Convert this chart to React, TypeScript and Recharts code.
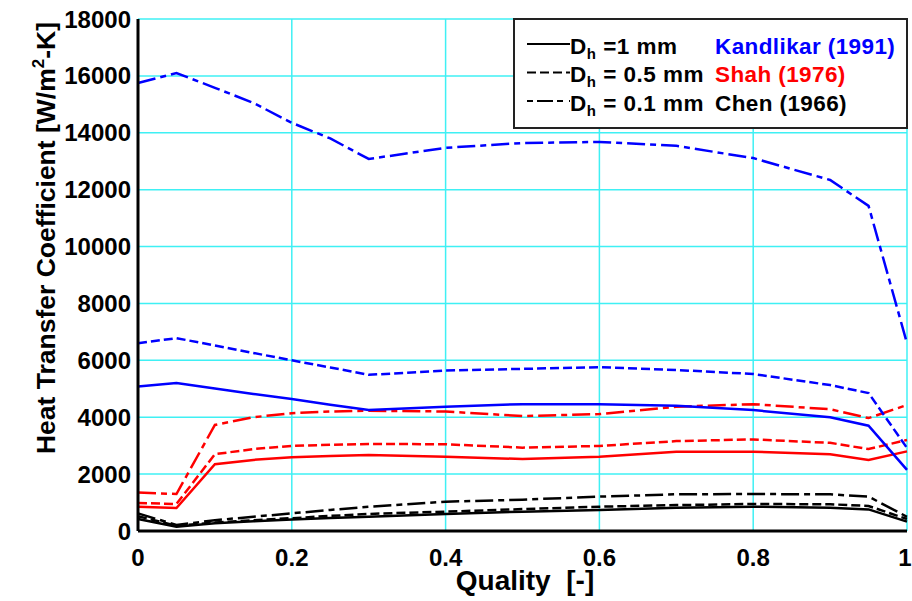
import React from "react";
import { LineChart, Line, XAxis, YAxis, CartesianGrid, Label } from "recharts";

const FONT = "'Liberation Sans', Arial, Helvetica, sans-serif";

// vapor quality positions where the correlations were evaluated
const quality = [0, 0.05, 0.1, 0.15, 0.2, 0.25, 0.3, 0.4, 0.5, 0.6, 0.7, 0.8, 0.9, 0.95, 1];

// Kandlikar (1991)
const kandlikar1 = [5080, 5200, 5010, 4820, 4640, 4440, 4250, 4370, 4460, 4460, 4400, 4250, 4000, 3700, 2150];
const kandlikar05 = [6600, 6780, 6520, 6260, 6000, 5750, 5490, 5640, 5700, 5760, 5660, 5520, 5130, 4850, 2920];
const kandlikar01 = [15750, 16100, 15580, 15050, 14350, 13800, 13080, 13470, 13640, 13680, 13540, 13110, 12340, 11430, 6600];

// Shah (1976)
const shah1 = [855, 810, 2345, 2500, 2590, 2640, 2670, 2610, 2530, 2610, 2790, 2790, 2700, 2500, 2800];
const shah05 = [985, 950, 2700, 2880, 2990, 3030, 3060, 3050, 2930, 2990, 3160, 3220, 3100, 2880, 3200];
const shah01 = [1350, 1300, 3730, 4000, 4140, 4200, 4230, 4200, 4040, 4110, 4370, 4460, 4280, 3970, 4430];

// Chen (1966)
const chen1 = [420, 150, 270, 340, 400, 460, 505, 600, 680, 740, 820, 855, 820, 760, 330];
const chen05 = [520, 180, 300, 380, 450, 530, 600, 680, 770, 855, 910, 950, 940, 880, 420];
const chen01 = [620, 210, 380, 500, 620, 740, 855, 1030, 1100, 1210, 1290, 1300, 1290, 1210, 500];

const xTicks = [0, 0.2, 0.4, 0.6, 0.8, 1];
const xMinorTicks = [0, 0.04, 0.08, 0.12, 0.16, 0.2, 0.24, 0.28, 0.32, 0.36, 0.4, 0.44, 0.48, 0.52, 0.56, 0.6, 0.64, 0.68, 0.72, 0.76, 0.8, 0.84, 0.88, 0.92, 0.96, 1];
const yTicks = [0, 2000, 4000, 6000, 8000, 10000, 12000, 14000, 16000, 18000];
const yMinorTicks = [0, 1000, 2000, 3000, 4000, 5000, 6000, 7000, 8000, 9000, 10000, 11000, 12000, 13000, 14000, 15000, 16000, 17000, 18000];

const SOLID = undefined;
const DASHED = "9 4";
const DASHDOT = "18 5 6 5";

const series = [
  { key: "chen1", values: chen1, color: "#000000", dash: SOLID },
  { key: "chen05", values: chen05, color: "#000000", dash: DASHED },
  { key: "chen01", values: chen01, color: "#000000", dash: DASHDOT },
  { key: "shah1", values: shah1, color: "#ff0000", dash: SOLID },
  { key: "shah05", values: shah05, color: "#ff0000", dash: DASHED },
  { key: "shah01", values: shah01, color: "#ff0000", dash: DASHDOT },
  { key: "kandlikar1", values: kandlikar1, color: "#0000ff", dash: SOLID },
  { key: "kandlikar05", values: kandlikar05, color: "#0000ff", dash: DASHED },
  { key: "kandlikar01", values: kandlikar01, color: "#0000ff", dash: DASHDOT },
];

const data = quality.map((q, i) => {
  const row: Record<string, number> = { q };
  series.forEach((s) => {
    row[s.key] = s.values[i];
  });
  return row;
});

const GRID = "#3ff0f4";

const XTick = ({ x, y, payload }: any) => (
  <text
    x={payload.value === 1 ? x - 2 : x}
    y={y + 35}
    textAnchor="middle"
    fontFamily={FONT}
    fontWeight="bold"
    fontSize={24}
    fill="#000"
  >
    {payload.value}
  </text>
);

const YTick = ({ x, y, payload }: any) => (
  <text x={x} y={y + 8.5} textAnchor="end" fontFamily={FONT} fontWeight="bold" fontSize={24} fill="#000">
    {payload.value}
  </text>
);

const NoLabel = () => <g />;

const YTitle = () => (
  <text
    x={55}
    y={238}
    transform="rotate(-90 55 238)"
    textAnchor="middle"
    fontFamily={FONT}
    fontWeight="bold"
    fontSize={26.5}
    fill="#000"
  >
    Heat Transfer Coefficient [W/m
    <tspan dy={-11} fontSize={17}>2</tspan>
    <tspan dy={11}>-K]</tspan>
  </text>
);

const XTitle = () => (
  <text
    x={525}
    y={590}
    textAnchor="middle"
    fontFamily={FONT}
    fontWeight="bold"
    fontSize={28}
    fill="#000"
    style={{ whiteSpace: "pre" }}
  >
    {"Quality  [-]"}
  </text>
);

const legendRows = [
  { dash: SOLID, size: "=1 mm", name: "Kandlikar (1991)", color: "#0000ff" },
  { dash: DASHED, size: "= 0.5 mm", name: "Shah (1976)", color: "#ff0000" },
  { dash: "6 4 16 4 6", size: "= 0.1 mm", name: "Chen (1966)", color: "#000000" },
];

function LegendBox() {
  return (
    <div
      style={{
        position: "absolute",
        left: 513,
        top: 18,
        width: 395,
        height: 111,
        boxSizing: "border-box",
        border: "2px solid #222",
        background: "#fff",
      }}
    >
      <svg width={391} height={107} style={{ position: "absolute", left: 0, top: 0 }}>
        {legendRows.map((r, i) => {
          const lineY = 24 + i * 28.5;
          const base = 33.5 + i * 28.7;
          return (
            <g key={r.name}>
              <line x1={12} x2={55} y1={lineY} y2={lineY} stroke="#000" strokeWidth={2} strokeDasharray={r.dash} />
              <text x={55} y={base} fontFamily={FONT} fontWeight="bold" fontSize={22.5} fill="#000" letterSpacing={0.5} style={{ whiteSpace: "pre" }}>
                D
                <tspan dy={5} fontSize={15}>h</tspan>
                <tspan dy={-5}>{" " + r.size}</tspan>
              </text>
              <text x={200} y={base} fontFamily={FONT} fontWeight="bold" fontSize={22.5} fill={r.color} letterSpacing={0.4}>
                {r.name}
              </text>
            </g>
          );
        })}
      </svg>
    </div>
  );
}

export default function App() {
  return (
    <div style={{ position: "absolute", left: 0, top: 0, width: 912, height: 601, background: "#fff" }}>
      <LineChart width={912} height={601} data={data} margin={{ top: 19, right: 5, bottom: 0, left: 0 }}>
        <CartesianGrid stroke={GRID} strokeWidth={1.5} />
        <XAxis
          dataKey="q"
          type="number"
          domain={[0, 1]}
          ticks={xTicks}
          interval={0}
          height={70}
          tickSize={0}
          tickMargin={0}
          tickLine={false}
          axisLine={{ stroke: "#000", strokeWidth: 3 }}
          tick={<XTick />}
        >
          <Label content={<XTitle />} />
        </XAxis>
        <XAxis
          xAxisId="minorBottom"
          dataKey="q"
          type="number"
          domain={[0, 1]}
          ticks={xMinorTicks}
          interval={0}
          orientation="bottom"
          mirror
          height={0}
          tickSize={5}
          axisLine={false}
          tickLine={{ stroke: "#000", strokeWidth: 1.5 }}
          tick={<NoLabel />}
        />
        <XAxis
          xAxisId="top"
          dataKey="q"
          type="number"
          domain={[0, 1]}
          ticks={xMinorTicks}
          interval={0}
          orientation="top"
          mirror
          height={0}
          tickSize={5}
          axisLine={{ stroke: "#000", strokeWidth: 3 }}
          tickLine={{ stroke: "#000", strokeWidth: 1.5 }}
          tick={<NoLabel />}
        />
        <YAxis
          type="number"
          domain={[0, 18000]}
          ticks={yTicks}
          interval={0}
          width={138}
          tickSize={0}
          tickMargin={7}
          tickLine={false}
          axisLine={{ stroke: "#000", strokeWidth: 3 }}
          tick={<YTick />}
        >
          <Label content={<YTitle />} />
        </YAxis>
        <YAxis
          yAxisId="minorLeft"
          type="number"
          domain={[0, 18000]}
          allowDataOverflow
          ticks={yMinorTicks}
          interval={0}
          orientation="left"
          mirror
          width={0}
          tickSize={6}
          axisLine={false}
          tickLine={{ stroke: "#000", strokeWidth: 1.5 }}
          tick={<NoLabel />}
        />
        <YAxis
          yAxisId="right"
          type="number"
          domain={[0, 18000]}
          allowDataOverflow
          ticks={yMinorTicks}
          interval={0}
          orientation="right"
          mirror
          width={0}
          tickSize={6}
          axisLine={{ stroke: "#000", strokeWidth: 3 }}
          tickLine={{ stroke: "#000", strokeWidth: 1.5 }}
          tick={<NoLabel />}
        />
        {series.map((s) => (
          <Line
            key={s.key}
            type="linear"
            dataKey={s.key}
            stroke={s.color}
            strokeWidth={2.5}
            strokeDasharray={s.dash}
            dot={false}
            activeDot={false}
            isAnimationActive={false}
          />
        ))}
      </LineChart>
      <LegendBox />
    </div>
  );
}
